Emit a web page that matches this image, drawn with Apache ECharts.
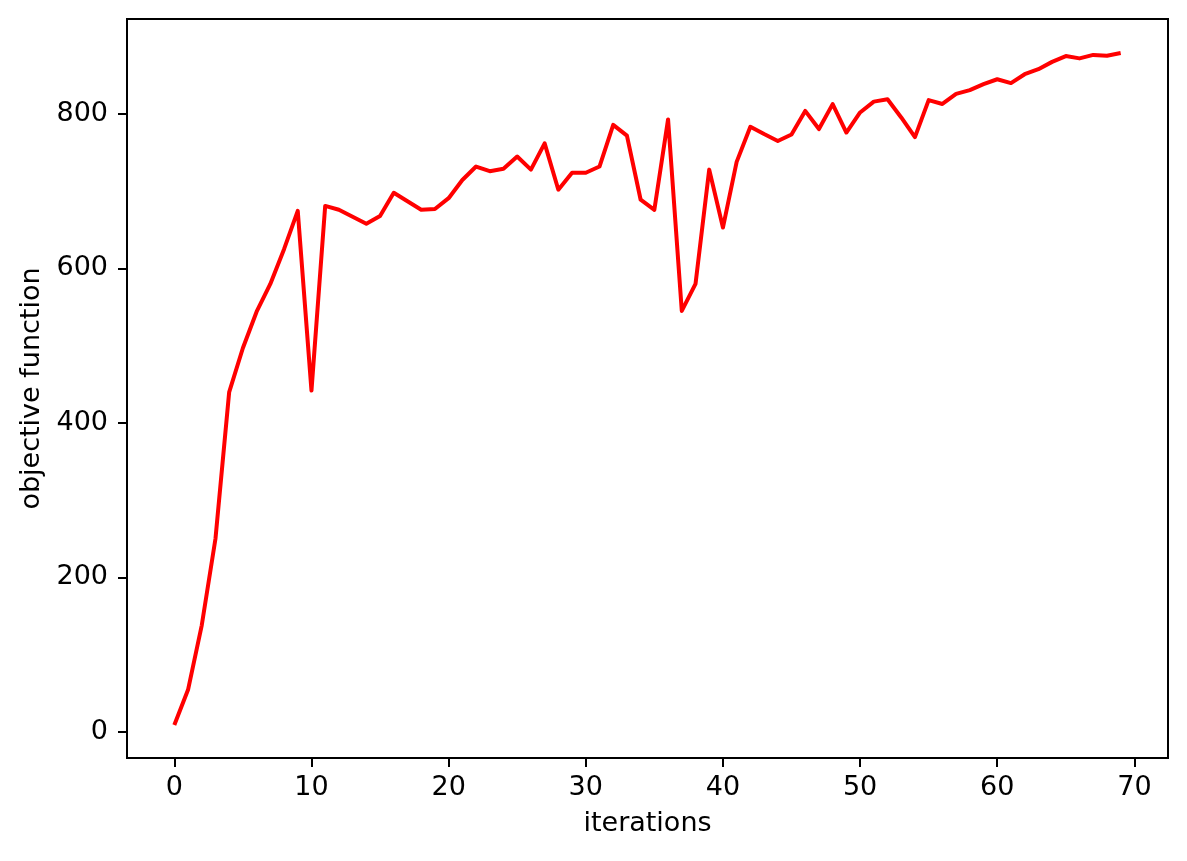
<!DOCTYPE html>
<html>
<head>
<meta charset="utf-8">
<script src="https://cdn.jsdelivr.net/npm/echarts@6/dist/echarts.min.js"></script>
<style>
html,body{margin:0;padding:0;background:#fff;}
#chart{width:1187px;height:861px;}
</style>
</head>
<body>
<div id="chart"></div>
<script>
const iterations = Array.from({length: 70}, (_, i) => i);
const objective = [
  9, 54.5, 138, 250, 440, 497, 544, 580, 625, 674.5,
  442, 681, 676, 667, 658, 668, 698, 687, 676, 677,
  691, 714.5, 732, 726, 729, 745, 728, 762, 702, 724,
  724, 732, 786, 772, 689, 676, 793, 545, 580, 728,
  653, 738, 783.5, 774, 765, 773.5, 804, 780.5, 812.8, 776,
  802, 816, 819, 795.5, 770, 818, 813, 826, 831, 838.6,
  845, 840, 851.5, 858, 867.5, 875, 872, 876.5, 875.5, 879
];
const xTicks = [0, 10, 20, 30, 40, 50, 60, 70];
const yTicks = [0, 200, 400, 600, 800];

const font = 'DejaVu Sans';
const fs = 27;
const chart = echarts.init(document.getElementById('chart'), null, {renderer: 'canvas'});
chart.setOption({
  animation: false,
  backgroundColor: '#ffffff',
  grid: {left: 127, right: 19, top: 19, bottom: 103, show: true, borderColor: '#000', borderWidth: 2, backgroundColor: 'transparent'},
  xAxis: {
    type: 'value', min: -3.45, max: 72.45,
    name: 'iterations', nameLocation: 'middle', nameGap: 52,
    nameTextStyle: {fontFamily: font, fontSize: fs, color: '#000'},
    axisLine: {show: true, onZero: false, lineStyle: {color: '#000', width: 2}},
    axisTick: {show: true, customValues: xTicks, length: 9, lineStyle: {color: '#000', width: 2}},
    axisLabel: {customValues: xTicks, fontFamily: font, fontSize: fs, color: '#000', margin: 16},
    splitLine: {show: false}
  },
  yAxis: {
    type: 'value', min: -33.8, max: 923,
    name: 'objective function', nameLocation: 'middle', nameGap: 80,
    nameTextStyle: {fontFamily: font, fontSize: fs, color: '#000'},
    axisLine: {show: true, onZero: false, lineStyle: {color: '#000', width: 2}},
    axisTick: {show: true, customValues: yTicks, length: 9, lineStyle: {color: '#000', width: 2}},
    axisLabel: {customValues: yTicks, fontFamily: font, fontSize: fs, color: '#000', margin: 19},
    splitLine: {show: false}
  },
  series: [{
    type: 'line',
    data: iterations.map((x, i) => [x, objective[i]]),
    showSymbol: false,
    lineStyle: {color: '#ff0000', width: 4, join: 'round'},
    itemStyle: {color: '#ff0000'}
  }]
});
</script>
</body>
</html>
